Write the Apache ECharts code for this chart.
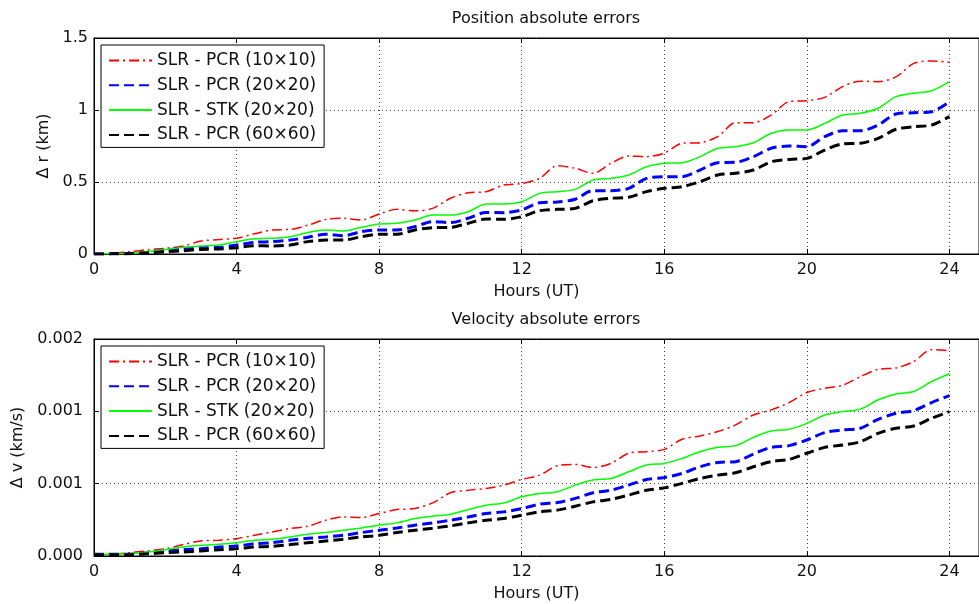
<!DOCTYPE html>
<html>
<head>
<meta charset="utf-8">
<script src="https://cdn.jsdelivr.net/npm/echarts@6/dist/echarts.min.js"></script>
<style>html,body{margin:0;padding:0;background:#fff}#c{width:979px;height:604px}</style>
</head>
<body>
<div id="c"></div>
<script>
const hours = [0,0.5,1,1.5,2,2.5,3,3.5,4,4.5,5,5.5,6,6.5,7,7.5,8,8.5,9,9.5,10,10.5,11,11.5,12,12.5,13,13.5,14,14.5,15,15.5,16,16.5,17,17.5,18,18.5,19,19.5,20,20.5,21,21.5,22,22.5,23,23.5,24];

const seriesNames = ['SLR - PCR (10×10)', 'SLR - PCR (20×20)', 'SLR - STK (20×20)', 'SLR - PCR (60×60)'];

// Position errors (km)
const posPCR10 = [0,0.005,0.016,0.03,0.04,0.055,0.09,0.1,0.11,0.14,0.167,0.171,0.2,0.24,0.248,0.236,0.278,0.31,0.30,0.317,0.387,0.426,0.433,0.479,0.49,0.525,0.613,0.595,0.56,0.63,0.68,0.676,0.70,0.769,0.773,0.815,0.912,0.912,0.965,1.058,1.065,1.088,1.162,1.20,1.197,1.23,1.324,1.34,1.331];
const posPCR20 = [0,0.001,0.003,0.012,0.028,0.039,0.046,0.046,0.062,0.081,0.086,0.097,0.116,0.137,0.127,0.155,0.167,0.167,0.19,0.225,0.218,0.248,0.289,0.287,0.306,0.356,0.361,0.38,0.44,0.44,0.456,0.525,0.537,0.537,0.583,0.634,0.637,0.676,0.734,0.75,0.745,0.815,0.856,0.856,0.896,0.972,0.981,0.988,1.058];
const posSTK20 = [0,0.002,0.005,0.018,0.032,0.046,0.056,0.062,0.086,0.106,0.109,0.12,0.15,0.167,0.16,0.185,0.208,0.213,0.236,0.27,0.27,0.294,0.347,0.347,0.363,0.421,0.433,0.449,0.514,0.525,0.549,0.606,0.63,0.634,0.676,0.734,0.745,0.773,0.838,0.861,0.861,0.907,0.965,0.977,1.012,1.093,1.116,1.134,1.197];
const posPCR60 = [0,0.001,0.002,0.008,0.016,0.023,0.032,0.035,0.044,0.058,0.056,0.062,0.086,0.097,0.097,0.12,0.137,0.137,0.167,0.183,0.185,0.213,0.243,0.241,0.259,0.301,0.31,0.317,0.37,0.387,0.394,0.433,0.456,0.468,0.502,0.549,0.56,0.583,0.641,0.657,0.664,0.722,0.764,0.769,0.803,0.866,0.884,0.896,0.954];

// Velocity errors (km/s)
const velPCR10 = [0.000012,0.000014,0.000023,0.000035,0.00005,0.000079,0.000104,0.000109,0.00012,0.000143,0.000166,0.00019,0.000206,0.000247,0.00027,0.000266,0.000294,0.000321,0.000328,0.000367,0.000437,0.000455,0.000467,0.00049,0.000529,0.000559,0.000624,0.000633,0.000612,0.00064,0.00071,0.000721,0.000737,0.000807,0.00083,0.00086,0.000906,0.000975,0.00101,0.00106,0.00113,0.00116,0.00118,0.00124,0.00129,0.0013,0.001345,0.001426,0.001419];
const velPCR20 = [0.000012,0.000012,0.000012,0.000022,0.000035,0.000044,0.00005,0.000062,0.000069,0.000085,0.000092,0.000109,0.000122,0.000132,0.000143,0.000162,0.000178,0.000194,0.000213,0.000229,0.000247,0.00027,0.000294,0.000305,0.000328,0.000358,0.00037,0.000398,0.000437,0.000455,0.00049,0.000529,0.000543,0.000571,0.000617,0.000647,0.000652,0.000705,0.000751,0.000763,0.000802,0.000853,0.000871,0.000883,0.000945,0.000987,0.001005,0.001061,0.001109];
const velSTK20 = [0.000012,0.000013,0.000016,0.000028,0.000044,0.000062,0.000074,0.000081,0.000092,0.000109,0.000116,0.000132,0.00015,0.000162,0.000178,0.000194,0.000213,0.000229,0.000259,0.000275,0.000289,0.000321,0.000351,0.000367,0.000409,0.000432,0.000444,0.00049,0.000525,0.000536,0.000582,0.000629,0.00064,0.000675,0.000721,0.000751,0.000763,0.00082,0.000864,0.000876,0.000917,0.000975,0.000998,0.001015,0.00108,0.00112,0.001137,0.001206,0.00126];
const velPCR60 = [0.000008,0.000008,0.000009,0.000015,0.000023,0.000028,0.000035,0.000044,0.00005,0.000062,0.000067,0.000079,0.000092,0.000104,0.000116,0.000132,0.000143,0.000162,0.000178,0.000192,0.000208,0.000229,0.000247,0.000259,0.000282,0.000305,0.000317,0.000344,0.000374,0.000391,0.000421,0.000455,0.000471,0.000502,0.000536,0.000559,0.000575,0.000617,0.000652,0.000668,0.00071,0.000751,0.000767,0.00079,0.000848,0.000883,0.000899,0.000952,0.000998];

const xTickLabels = ['0','4','8','12','16','20','24'];
const posTickLabels = ['0','0.5','1','1.5'];
const velTickLabels = ['0.000','0.001','0.001','0.002'];

const FONT = 'DejaVu Sans';
const TXT = '#111';
const styles = [
  {color:'#ff0000', width:1.5, type:[10,4,2,4]},
  {color:'#0000ff', width:3, type:[10,5]},
  {color:'#00ff00', width:1.5, type:'solid'},
  {color:'#000000', width:3, type:[10,5]}
];

const XMAX = 24.83;
function pairs(vals){ return hours.map((h,i)=>[h, vals[i]]); }

function xAxes(gi){
  return [{
    type:'value', gridIndex:gi, min:0, max:XMAX, interval:4, position:'bottom',
    name:'Hours (UT)', nameLocation:'middle', nameGap:30,
    nameTextStyle:{fontFamily:FONT, fontSize:16, color:TXT},
    axisLine:{lineStyle:{color:'#000', width:1}},
    axisTick:{inside:true, length:5, lineStyle:{color:'#000'}},
    axisLabel:{fontFamily:FONT, fontSize:16, color:TXT, margin:8, showMaxLabel:false,
      formatter:(v)=>{const i=Math.round(v/4); return (Math.abs(v-i*4)<1e-6 && xTickLabels[i]!==undefined)?xTickLabels[i]:'';}},
    splitLine:{show:true, lineStyle:{color:'#444', width:1, type:[1,3]}}
  },{
    type:'value', gridIndex:gi, min:0, max:XMAX, interval:4, position:'top',
    axisLine:{lineStyle:{color:'#000', width:1}},
    axisTick:{inside:true, length:5, lineStyle:{color:'#000'}},
    axisLabel:{show:false}, splitLine:{show:false}
  }];
}

function yAxis(gi, max, step, labels, name, gap, margin){
  return {
    type:'value', gridIndex:gi, min:0, max:max, interval:step,
    name:name, nameLocation:'middle', nameGap:gap,
    nameTextStyle:{fontFamily:FONT, fontSize:16, color:TXT},
    axisLine:{show:true, lineStyle:{color:'#000', width:1}},
    axisTick:{show:true, inside:true, length:5, lineStyle:{color:'#000'}},
    axisLabel:{fontFamily:FONT, fontSize:16, color:TXT, margin:margin,
      formatter:(v)=>{const i=Math.round(v/step); return labels[i]!==undefined?labels[i]:'';}},
    splitLine:{show:true, lineStyle:{color:'#444', width:1, type:[1,3]}}
  };
}

function mkSeries(gi, data){
  return data.map((vals,k)=>({
    name:seriesNames[k], type:'line', xAxisIndex:gi*2, yAxisIndex:gi,
    data:pairs(vals), symbol:'none', showSymbol:false, smooth:0.3,
    lineStyle:{color:styles[k].color, width:styles[k].width, type:styles[k].type},
    itemStyle:{color:styles[k].color}, z:2+k
  }));
}

function legend(top){
  return {
    orient:'vertical', left:101, top:top, data:seriesNames,
    itemWidth:43, itemHeight:16, itemGap:7.8,
    padding:[7,8,4,7], borderColor:'#000', borderWidth:1, backgroundColor:'#fff',
    itemStyle:{color:'rgba(0,0,0,0)', borderWidth:0, opacity:0},
    textStyle:{fontFamily:FONT, fontSize:17, color:TXT},
    selectedMode:false
  };
}

const chart = echarts.init(document.getElementById('c'), null, {renderer:'canvas'});
chart.setOption({
  animation:false,
  backgroundColor:'#fff',
  title:[
    {text:'Position absolute errors', left:541, top:6, textAlign:'center',
      textStyle:{fontFamily:FONT, fontSize:16, fontWeight:'normal', color:TXT}},
    {text:'Velocity absolute errors', left:541, top:307, textAlign:'center',
      textStyle:{fontFamily:FONT, fontSize:16, fontWeight:'normal', color:TXT}}
  ],
  legend:[legend(45), legend(346)],
  grid:[
    {left:94, top:38, right:-3, height:216, show:true, borderColor:'#000', borderWidth:1, backgroundColor:'#fff'},
    {left:94, top:339, right:-3, height:217, show:true, borderColor:'#000', borderWidth:1, backgroundColor:'#fff'}
  ],
  xAxis:[...xAxes(0), ...xAxes(1)],
  yAxis:[
    yAxis(0, 1.5, 0.5, posTickLabels, 'Δ r (km)', 41, 6),
    yAxis(1, 0.0015, 0.0005, velTickLabels, 'Δ v (km/s)', 65, 11)
  ],
  series:[
    ...mkSeries(0, [posPCR10, posPCR20, posSTK20, posPCR60]),
    ...mkSeries(1, [velPCR10, velPCR20, velSTK20, velPCR60])
  ]
});
</script>
</body>
</html>
